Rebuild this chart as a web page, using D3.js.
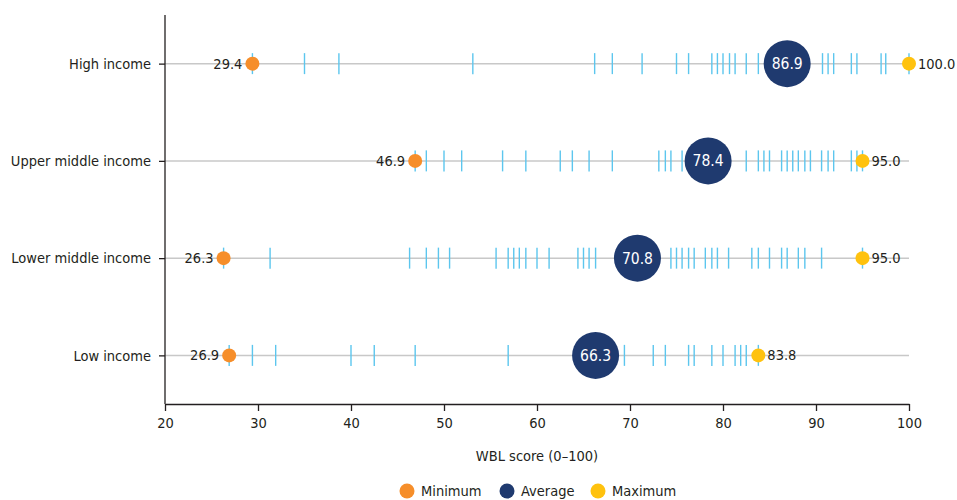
<!DOCTYPE html>
<html>
<head>
<meta charset="utf-8">
<script src="https://cdn.jsdelivr.net/npm/d3@7"></script>
<style>
  body { margin: 0; background: #fff; }
  svg text { font-family: "DejaVu Sans Condensed", "DejaVu Sans", sans-serif; font-stretch: condensed; fill: #231f20; }
</style>
</head>
<body>
<div id="chart"></div>
<script>
// income groups, top to bottom
const groups = ["High income", "Upper middle income", "Lower middle income", "Low income"];
const minimums = [29.4, 46.9, 26.3, 26.9];
const averages = [86.9, 78.4, 70.8, 66.3];
const maximums = [100.0, 95.0, 95.0, 83.8];

// individual economy scores per group
const highScores = [29.4, 35.0, 38.7, 53.1, 66.2, 68.1, 71.3, 75.0, 76.3, 78.8, 79.4, 80.0, 80.7, 81.3, 82.5, 83.8,
  90.7, 91.3, 91.9, 93.8, 94.4, 97.0, 97.5, 100.0];
const upperScores = [46.9, 48.1, 50.0, 51.9, 56.3, 58.8, 62.5, 63.8, 65.6, 68.1, 73.1, 73.8, 74.4, 75.6,
  82.5, 83.8, 84.4, 85.0, 86.3, 86.9, 87.5, 88.1, 88.8, 89.4, 90.6, 91.3, 91.9, 93.8, 94.4, 95.0];
const lowerScores = [26.3, 31.3, 46.3, 48.1, 49.4, 50.6, 55.6, 56.9, 57.5, 58.1, 58.8, 60.0, 61.3, 64.4, 65.0, 65.6, 66.3,
  74.4, 75.0, 75.6, 76.3, 76.9, 78.1, 78.8, 79.4, 80.6, 83.1, 83.8, 85.0, 86.3, 86.9, 88.1, 88.8, 90.6, 95.0];
const lowScores = [26.9, 29.4, 31.9, 40.0, 42.5, 46.9, 56.9, 69.4, 72.5, 73.8, 76.3, 76.9, 78.8, 80.0, 81.3, 81.9, 82.5, 83.8];
const scores = [highScores, upperScores, lowerScores, lowScores];

const xTicks = [20, 30, 40, 50, 60, 70, 80, 90, 100];

const W = 957, H = 500;
const plotLeft = 165, plotRight = 909, plotTop = 15, plotBottom = 404;
const fs = "14.5px";

const svg = d3.select("#chart").append("svg").attr("width", W).attr("height", H);

const x = d3.scaleLinear().domain([20, 100]).range([plotLeft, plotRight]);
const y = d3.scalePoint().domain(groups).range([plotTop, plotBottom]).padding(0.5);

// row guide lines
svg.append("g").selectAll("line")
  .data(groups)
  .enter()
  .append("line")
  .attr("x1", plotLeft).attr("x2", x(100))
  .attr("y1", d => y(d)).attr("y2", d => y(d))
  .attr("stroke", "#c8c8c8").attr("stroke-width", 1.5);

// strip marks
groups.forEach((g, i) => {
  svg.append("g").selectAll("line")
    .data(scores[i])
    .enter()
    .append("line")
    .attr("x1", d => x(d)).attr("x2", d => x(d))
    .attr("y1", y(g) - 10.5).attr("y2", y(g) + 10.5)
    .attr("stroke", "#5cc6ee").attr("stroke-width", 1.4);
});

// axes
const yAxis = svg.append("g").attr("transform", `translate(${plotLeft},0)`)
  .call(d3.axisLeft(y).tickSize(6).tickPadding(8));
yAxis.select(".domain").attr("d", `M0,${plotTop}V${plotBottom}`).attr("stroke", "#231f20").attr("stroke-width", 1.3);
yAxis.selectAll(".tick line").attr("stroke", "#231f20").attr("stroke-width", 1.3);
yAxis.selectAll("text").style("font-size", fs);

const xAxis = svg.append("g").attr("transform", `translate(0,${plotBottom})`)
  .call(d3.axisBottom(x).tickValues(xTicks).tickSize(7).tickPadding(7).tickSizeOuter(0));
xAxis.select(".domain").attr("stroke", "#231f20").attr("stroke-width", 1.3);
xAxis.selectAll(".tick line").attr("stroke", "#231f20").attr("stroke-width", 1.3);
xAxis.selectAll("text").style("font-size", fs);

svg.append("text")
  .attr("x", (plotLeft + plotRight) / 2).attr("y", 461)
  .attr("text-anchor", "middle")
  .style("font-size", fs)
  .text("WBL score (0\u2013100)");

// min / max / average markers with labels
const rows = svg.append("g");
groups.forEach((g, i) => {
  rows.append("circle").attr("cx", x(minimums[i])).attr("cy", y(g)).attr("r", 7).attr("fill", "#f68e2a");
  rows.append("text").attr("x", x(minimums[i]) - 10).attr("y", y(g)).attr("dy", "0.35em")
    .attr("text-anchor", "end").style("font-size", fs).text(minimums[i].toFixed(1));

  rows.append("circle").attr("cx", x(maximums[i])).attr("cy", y(g)).attr("r", 7).attr("fill", "#ffc20e");
  rows.append("text").attr("x", x(maximums[i]) + 9).attr("y", y(g)).attr("dy", "0.35em")
    .style("font-size", fs).text(maximums[i].toFixed(1));

  rows.append("circle").attr("cx", x(averages[i])).attr("cy", y(g)).attr("r", 23.5).attr("fill", "#1f3a6f");
  rows.append("text").attr("x", x(averages[i])).attr("y", y(g)).attr("dy", "0.35em")
    .attr("text-anchor", "middle").style("font-size", "15.5px").style("fill", "#fff")
    .text(averages[i].toFixed(1));
});

// legend
const legendItems = [
  { label: "Minimum", color: "#f68e2a", x: 407 },
  { label: "Average", color: "#1f3a6f", x: 507 },
  { label: "Maximum", color: "#ffc20e", x: 598 }
];
const legend = svg.append("g").selectAll("g")
  .data(legendItems)
  .enter()
  .append("g")
  .attr("transform", d => `translate(${d.x},491)`);
legend.append("circle").attr("r", 7.5).attr("fill", d => d.color);
legend.append("text").attr("x", 14).attr("dy", "0.35em").style("font-size", fs).text(d => d.label);
</script>
</body>
</html>
